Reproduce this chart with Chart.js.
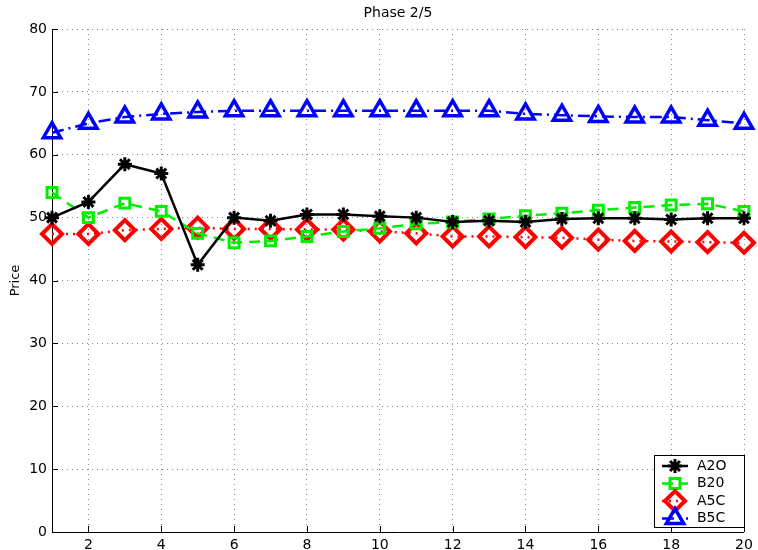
<!DOCTYPE html>
<html>
<head>
<meta charset="utf-8">
<script src="https://cdn.jsdelivr.net/npm/chart.js@4.4.1/dist/chart.umd.min.js"></script>
<style>
    body { margin: 0; background: #ffffff; }
    #wrap { width: 758px; height: 550px; }
</style>
</head>
<body>
<div id="wrap"><canvas id="phaseChart" width="758" height="550"></canvas></div>
<script>
// Data
const periods = [1, 2, 3, 4, 5, 6, 7, 8, 9, 10, 11, 12, 13, 14, 15, 16, 17, 18, 19, 20];
const a2o = [50, 52.5, 58.5, 57, 42.5, 50, 49.5, 50.5, 50.5, 50.2, 50, 49.3, 49.5, 49.3, 49.8, 49.9, 49.9, 49.7, 49.9, 49.9];
const b20 = [54, 50, 52.3, 51, 47.5, 46, 46.3, 47, 47.8, 48.3, 49, 49.3, 49.8, 50.3, 50.7, 51.2, 51.6, 52, 52.2, 51];
const a5c = [47.4, 47.4, 48, 48.2, 48.4, 48.2, 48.2, 48.1, 48.1, 47.8, 47.5, 47, 47, 46.9, 46.8, 46.5, 46.3, 46.2, 46.1, 46];
const b5c = [63.5, 65, 66, 66.5, 66.8, 67, 67, 67, 67, 67, 67, 67, 67, 66.5, 66.3, 66.1, 66, 66, 65.5, 65];
const xTicks = [2, 4, 6, 8, 10, 12, 14, 16, 18, 20];
const yTicks = [0, 10, 20, 30, 40, 50, 60, 70, 80];

const FONT = 'DejaVu Sans';

const toPoints = (values) => values.map((v, i) => ({ x: periods[i], y: v }));

// Solid axes, inward tick marks, title and the boxed legend in the lower right
const matlabLook = {
    id: 'matlabLook',
    beforeDatasetsDraw(chart) {
        const ctx = chart.ctx;
        const area = chart.chartArea;
        const xs = chart.scales.x;
        const ys = chart.scales.y;

        ctx.save();
        ctx.strokeStyle = '#000000';
        ctx.lineWidth = 1;
        ctx.beginPath();
        ctx.moveTo(area.left + 0.5, area.top);
        ctx.lineTo(area.left + 0.5, area.bottom + 0.5);
        ctx.lineTo(area.right, area.bottom + 0.5);
        xTicks.forEach(v => {
            const px = Math.round(xs.getPixelForValue(v)) + 0.5;
            ctx.moveTo(px, area.bottom);
            ctx.lineTo(px, area.bottom - 6);
        });
        yTicks.forEach(v => {
            const py = Math.round(ys.getPixelForValue(v)) + 0.5;
            ctx.moveTo(area.left, py);
            ctx.lineTo(area.left + 6, py);
        });
        ctx.stroke();
        ctx.restore();
    },
    afterDraw(chart) {
        const ctx = chart.ctx;
        const area = chart.chartArea;

        ctx.save();
        // title
        ctx.fillStyle = '#000000';
        ctx.font = '14px "' + FONT + '"';
        ctx.textAlign = 'center';
        ctx.textBaseline = 'middle';
        ctx.fillText('Phase 2/5', (area.left + area.right) / 2, 13);

        // legend
        const boxW = 90, boxH = 72;
        const bx = area.right - boxW, by = area.bottom - boxH - 5;
        ctx.fillStyle = '#ffffff';
        ctx.fillRect(bx, by, boxW, boxH);
        ctx.strokeStyle = '#000000';
        ctx.lineWidth = 1;
        ctx.strokeRect(bx + 0.5, by + 0.5, boxW, boxH);

        chart.data.datasets.forEach((ds, i) => {
            const ly = by + 11 + i * 17.5;
            ctx.save();
            ctx.strokeStyle = ds.borderColor;
            ctx.lineWidth = ds.borderWidth;
            ctx.setLineDash(ds.borderDash || []);
            ctx.beginPath();
            ctx.moveTo(bx + 8, ly);
            ctx.lineTo(bx + 34, ly);
            ctx.stroke();
            ctx.setLineDash([]);
            ctx.strokeStyle = ds.pointBorderColor;
            ctx.lineWidth = ds.pointBorderWidth;
            ctx.fillStyle = ds.pointBackgroundColor;
            Chart.helpers.drawPoint(ctx, {
                pointStyle: ds.pointStyle,
                radius: ds.pointRadius,
                rotation: 0,
                borderWidth: ds.pointBorderWidth
            }, bx + 21, ly);
            ctx.restore();

            ctx.fillStyle = '#000000';
            ctx.font = '14px "' + FONT + '"';
            ctx.textAlign = 'left';
            ctx.textBaseline = 'middle';
            ctx.fillText(ds.label, bx + 43, ly);
        });
        ctx.restore();
    }
};

const ctx = document.querySelector('#phaseChart').getContext('2d');

new Chart(ctx, {
    type: 'line',
    data: {
        datasets: [
            {
                label: 'A2O',
                data: toPoints(a2o),
                borderColor: '#000000',
                borderWidth: 2.5,
                pointStyle: 'star',
                pointRadius: 7,
                pointBorderWidth: 3,
                pointBorderColor: '#000000',
                pointBackgroundColor: '#000000',
                clip: false
            },
            {
                label: 'B20',
                data: toPoints(b20),
                borderColor: '#00ee00',
                borderWidth: 2.5,
                borderDash: [11, 7],
                pointStyle: 'rect',
                pointRadius: 7,
                pointBorderWidth: 3,
                pointBorderColor: '#00ee00',
                pointBackgroundColor: 'rgba(255,255,255,0)',
                clip: false
            },
            {
                label: 'A5C',
                data: toPoints(a5c),
                borderColor: '#ff0000',
                borderWidth: 2.5,
                borderDash: [2, 5],
                pointStyle: 'rectRot',
                pointRadius: 10,
                pointBorderWidth: 4,
                pointBorderColor: '#ff0000',
                pointBackgroundColor: 'rgba(255,255,255,0)',
                clip: false
            },
            {
                label: 'B5C',
                data: toPoints(b5c),
                borderColor: '#0000ff',
                borderWidth: 2.5,
                borderDash: [12, 5, 2, 5],
                pointStyle: 'triangle',
                pointRadius: 10,
                pointBorderWidth: 3.5,
                pointBorderColor: '#0000ff',
                pointBackgroundColor: 'rgba(255,255,255,0)',
                clip: false
            }
        ]
    },
    options: {
        responsive: false,
        animation: false,
        layout: { padding: { left: 0, top: 29, right: 11, bottom: 0 } },
        scales: {
            x: {
                type: 'linear',
                min: 1,
                max: 20,
                afterBuildTicks: (scale) => { scale.ticks = xTicks.map(v => ({ value: v })); },
                afterFit: (scale) => { scale.height = 18; },
                grid: { color: '#888888', drawTicks: false, lineWidth: 1 },
                border: { display: false, dash: [1, 4] },
                ticks: { color: '#000000', padding: 5, maxRotation: 0, font: { family: FONT, size: 14 } }
            },
            y: {
                min: 0,
                max: 80,
                afterBuildTicks: (scale) => { scale.ticks = yTicks.map(v => ({ value: v })); },
                afterFit: (scale) => { scale.width = 52; },
                grid: { color: '#888888', drawTicks: false, lineWidth: 1 },
                border: { display: false, dash: [1, 4] },
                ticks: { color: '#000000', padding: 5, font: { family: FONT, size: 14 } },
                title: { display: true, text: 'Price', color: '#000000', padding: { top: 8, bottom: 0 }, font: { family: FONT, size: 13 } }
            }
        },
        plugins: {
            legend: { display: false },
            title: { display: false },
            tooltip: { enabled: false }
        }
    },
    plugins: [matlabLook]
});
</script>
</body>
</html>
